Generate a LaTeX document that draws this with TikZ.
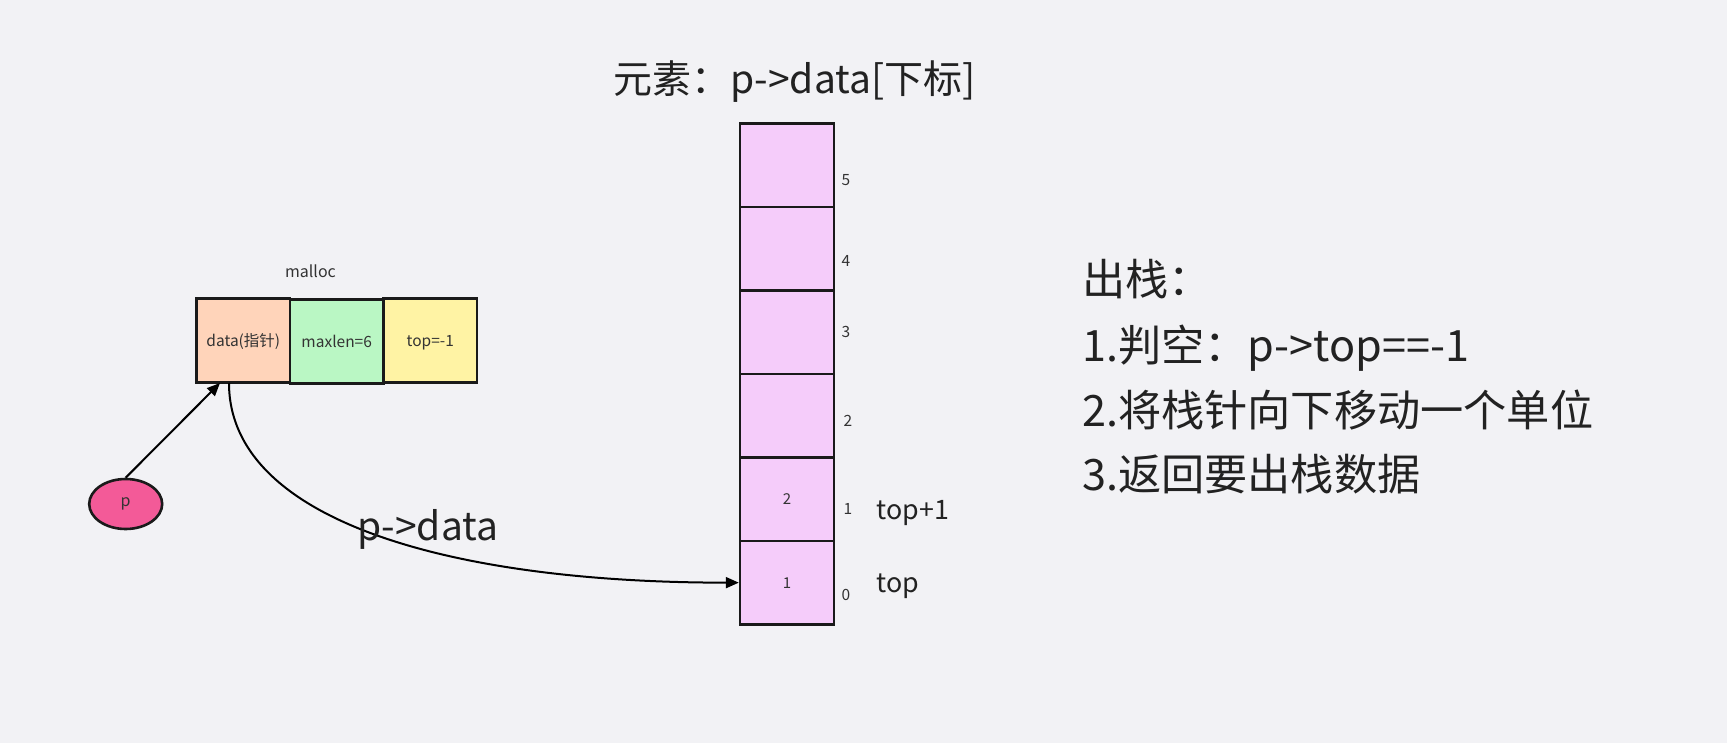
\documentclass[tikz,border=0pt]{standalone}
\usepackage{fontspec}
\setmainfont{Noto Sans CJK SC}
\usetikzlibrary{arrows.meta,calc,shapes.geometric}
\definecolor{bg}{HTML}{F2F2F5}
\definecolor{cdata}{HTML}{FFD4BA}
\definecolor{cmax}{HTML}{BAF7C4}
\definecolor{ctop}{HTML}{FFF3A4}
\definecolor{cstack}{HTML}{F5CCFA}
\definecolor{cp}{HTML}{F35A98}
\definecolor{ink}{HTML}{1A1A1A}
\definecolor{txt}{HTML}{222222}
\definecolor{txtsm}{HTML}{333333}
\tikzset{
  fbox/.style={draw=ink, line width=2.6pt, minimum width=93.3pt, minimum height=84pt, inner sep=0pt,
    text=txtsm, font=\fontsize{15.5}{18}\selectfont, text height=13.4pt, text depth=0pt},
  cellbox/.style={draw=ink, line width=2.4pt, fill=cstack, minimum width=94pt, minimum height=83.5pt,
    inner sep=0pt, text=txtsm, font=\fontsize{15}{18}\selectfont},
  idx/.style={inner sep=0pt, text=txtsm, font=\fontsize{15.5}{18}\selectfont},
  small/.style={inner sep=0pt, text=txtsm, font=\fontsize{16}{19}\selectfont},
  big/.style={inner sep=0pt, text=txt, font=\fontsize{39}{46}\selectfont},
  side/.style={inner sep=0pt, text=txt, font=\fontsize{43.2}{52}\selectfont, anchor=base west},
  mid/.style={inner sep=0pt, text=txt, font=\fontsize{26.8}{30}\selectfont, anchor=base west},
  arr/.style={draw=black, line width=2pt, -{Triangle[length=13pt,width=11pt]}}
}
\begin{document}
\begin{tikzpicture}[x=1pt,y=-1pt]
\path[fill=bg] (0,0) rectangle (1727,743);
\useasboundingbox (0,0) rectangle (1727,743);

% title
\node[big, anchor=base west] (title) at (613,94) {元素：p->data[下标]};

% struct boxes
\node[small, anchor=base] (malloc) at (310.5,278) {malloc};
\node[fbox, fill=cdata] (data) at (243.3,340.3) {data(指针)};
\node[fbox, fill=cmax] (maxlen) at (336.7,341.3) {maxlen=6};
\node[fbox, fill=ctop] (topv) at (430.3,340.3) {top=-1};

% pointer p
\node[ellipse, draw=ink, line width=2.6pt, fill=cp, minimum width=73pt, minimum height=50pt,
  inner sep=0pt, text=txtsm, font=\fontsize{16}{19}\selectfont] (p) at (125.7,504) {p};
\coordinate (pin) at (220,383);
\draw[arr] (p.north) -- (pin);

% stack cells
\node[cellbox] (c5) at (787,165.15) {};
\node[cellbox] (c4) at (787,248.65) {};
\node[cellbox] (c3) at (787,332.15) {};
\node[cellbox] (c2) at (787,415.65) {};
\node[cellbox] (c1) at (787,499.15) {2};
\node[cellbox] (c0) at (787,582.65) {1};

% indices
\node[idx] (i5) at (846,180) {5};
\node[idx] (i4) at (846,261) {4};
\node[idx] (i3) at (846,332) {3};
\node[idx] (i2) at (848,421) {2};
\node[idx] (i1) at (848,509) {1};
\node[idx] (i0) at (846,595) {0};

\node[mid] (tp1) at (876.5,519.5) {top+1};
\node[mid] (tp0) at (876.5,592) {top};

% curve data -> stack
\coordinate (dout) at (229,383);
\draw[arr] (dout) .. controls ($(dout)+(0,137)$) and ($(c0.west)+(-290,0)$) .. (c0.west);
\node[big, anchor=base west] (plbl) at (357,540) {p->data};

% side text
\node[side] (s0) at (1082,296) {出栈：};
\node[side] (s1) at (1082,361) {1.判空：p->top==-1};
\node[side] (s2) at (1082,426) {2.将栈针向下移动一个单位};
\node[side] (s3) at (1082,490) {3.返回要出栈数据};
\end{tikzpicture}
\end{document}
